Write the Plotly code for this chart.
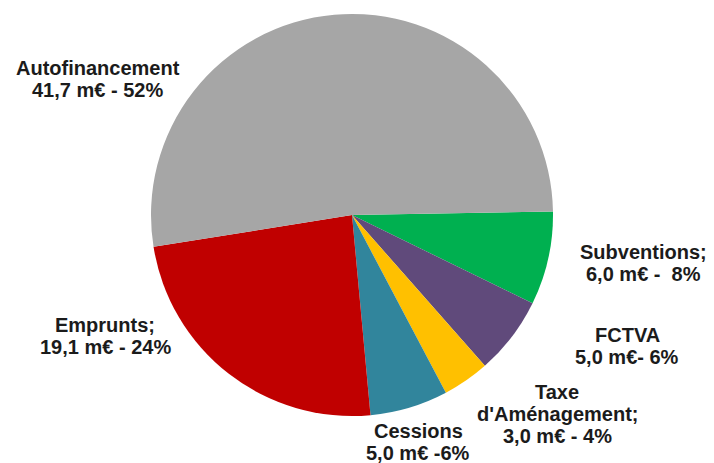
import plotly.graph_objects as go

# slices listed clockwise starting just above 3 o'clock
categories = ["Subventions", "FCTVA", "Taxe d'Aménagement", "Cessions", "Emprunts", "Autofinancement"]
values = [6.0, 5.0, 3.0, 5.0, 19.1, 41.7]
colors = ["#00B050", "#604A7B", "#FFC000", "#31859C", "#C00000", "#A6A6A6"]
label_lines = [
    ["Subventions;", "6,0 m€ -  8%"],
    ["FCTVA", "5,0 m€- 6%"],
    ["Taxe", "d'Aménagement;", "3,0 m€ - 4%"],
    ["Cessions", "5,0 m€ -6%"],
    ["Emprunts;", "19,1 m€ - 24%"],
    ["Autofinancement", "41,7 m€ - 52%"],
]
# pixel centre of first line of each label
label_pos = [(643, 252), (627, 335), (557, 392), (418, 431), (105, 325), (98, 68)]

W, H = 714, 463
ML, MR, MT, MB = 0, 10, 14, 47
PW, PH = W - ML - MR, H - MT - MB

fig = go.Figure(go.Pie(
    labels=categories, values=values, sort=False, direction="clockwise",
    rotation=89, marker=dict(colors=colors, line=dict(width=0)),
    textinfo="none", hoverinfo="label+value+percent", showlegend=False,
))

annotations = []
for lines, (px, py) in zip(label_lines, label_pos):
    for i, line in enumerate(lines):
        y = py + 22 * i
        annotations.append(dict(
            x=(px - ML) / PW, y=1 - (y - MT) / PH, xref="paper", yref="paper",
            text=line, showarrow=False, xanchor="center", yanchor="middle",
            font=dict(family="Liberation Sans, Arial", size=20, color="#1b1b1b", weight="bold"),
        ))

fig.update_layout(
    width=W, height=H,
    margin=dict(l=ML, r=MR, t=MT, b=MB),
    paper_bgcolor="white", plot_bgcolor="white",
    annotations=annotations,
)
fig.write_html("out.html")
